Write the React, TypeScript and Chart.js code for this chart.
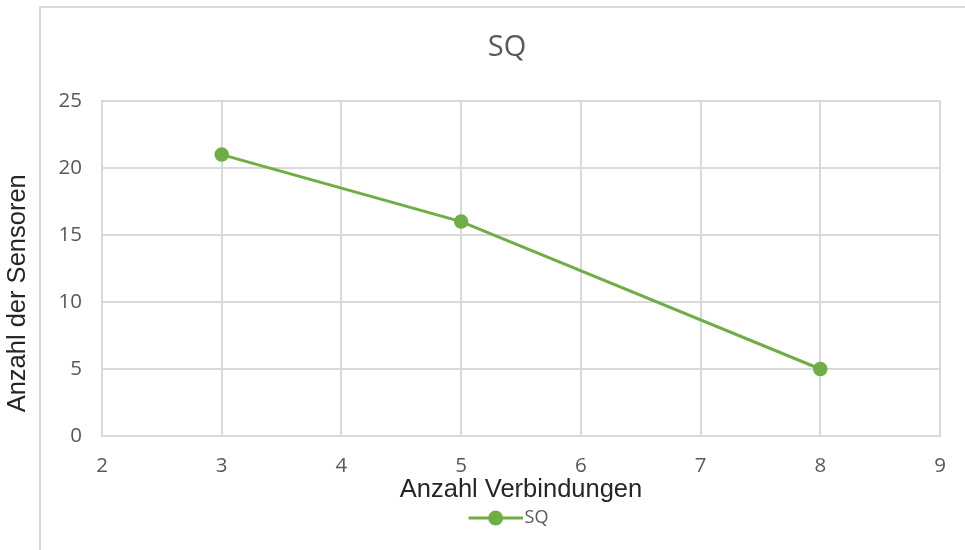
import React, { useEffect, useRef } from "react";
import { Chart, registerables } from "chart.js";

Chart.register(...registerables);

const seriesName = "SQ";
const connections = [3, 5, 8];
const sensors = [21, 16, 5];
const xTicks = { min: 2, max: 9, step: 1 };
const yTicks = { min: 0, max: 25, step: 5 };
const chartTitle = "SQ";
const xTitle = "Anzahl Verbindungen";
const yTitle = "Anzahl der Sensoren";

const GREEN = "#70ad47";
const GRID = "#d9d9d9";
const TICK = "#595959";
const UI_FONT = "'Open Sans', 'Noto Sans', sans-serif";
const AX_FONT = "'Liberation Sans', Arial, sans-serif";

function makeLegendImage(): HTMLCanvasElement {
  const c = document.createElement("canvas");
  c.width = 64;
  c.height = 16;
  const ctx = c.getContext("2d")!;
  ctx.strokeStyle = GREEN;
  ctx.lineWidth = 3;
  ctx.beginPath();
  ctx.moveTo(10, 8);
  ctx.lineTo(64, 8);
  ctx.stroke();
  ctx.fillStyle = GREEN;
  ctx.beginPath();
  ctx.arc(37, 8, 7.5, 0, Math.PI * 2);
  ctx.fill();
  return c;
}

export default function App() {
  const ref = useRef<HTMLCanvasElement>(null);
  useEffect(() => {
    if (!ref.current) return;
    const img = makeLegendImage();
    const chart = new Chart(ref.current, {
      type: "line",
      data: {
        datasets: [
          {
            label: seriesName,
            data: connections.map((x, i) => ({ x, y: sensors[i] })),
            borderColor: GREEN,
            backgroundColor: GREEN,
            borderWidth: 3,
            pointRadius: 6.5,
            pointHoverRadius: 6.5,
            pointBackgroundColor: GREEN,
            pointBorderColor: GREEN,
            pointBorderWidth: 1.5,
            tension: 0,
            fill: false,
            yAxisID: "y",
          },
        ],
      },
      options: {
        responsive: false,
        animation: false,
        devicePixelRatio: 1,
        layout: { padding: { left: 0, right: 0, top: 0, bottom: 13 } },
        plugins: {
          tooltip: { enabled: false },
          title: {
            display: true,
            text: chartTitle,
            color: TICK,
            font: { family: UI_FONT, size: 29, weight: "normal" },
            padding: { top: 30, bottom: 36.2 },
          },
          legend: {
            display: true,
            position: "bottom",
            labels: {
              usePointStyle: true,
              pointStyleWidth: 50,
              padding: 4,
              color: TICK,
              font: { family: UI_FONT, size: 18 },
              generateLabels: () => [
                {
                  text: seriesName,
                  pointStyle: img as any,
                  fillStyle: GREEN,
                  strokeStyle: GREEN,
                  lineWidth: 0,
                  fontColor: TICK,
                  hidden: false,
                  datasetIndex: 0,
                } as any,
              ],
            },
          },
        },
        scales: {
          x: {
            type: "linear",
            min: xTicks.min,
            max: xTicks.max,
            ticks: {
              stepSize: xTicks.step,
              color: TICK,
              padding: 18,
              font: { family: UI_FONT, size: 20.5 },
            },
            grid: { color: GRID, lineWidth: 2, drawTicks: false },
            border: { display: true, color: GRID, width: 2 },
            title: {
              display: true,
              text: xTitle,
              color: "#262626",
              font: { family: AX_FONT, size: 25.5 },
              padding: { top: 0, bottom: 0 },
            },
            afterFit: (s: any) => {
              s.height = 69;
            },
          },
          y: {
            type: "linear",
            position: "left",
            min: yTicks.min,
            max: yTicks.max,
            ticks: {
              stepSize: yTicks.step,
              color: TICK,
              padding: 20,
              font: { family: UI_FONT, size: 20.5 },
            },
            grid: { color: GRID, lineWidth: 2, drawTicks: false },
            border: { display: true, color: GRID, width: 2 },
            title: {
              display: true,
              text: yTitle + "       ",
              color: "#262626",
              font: { family: AX_FONT, size: 25.5 },
              padding: { top: 3, bottom: 0 },
            },
            afterFit: (s: any) => {
              s.width = 102;
            },
          },
          y2: {
            type: "linear",
            position: "right",
            display: true,
            ticks: { display: false },
            grid: { display: false, drawTicks: false },
            border: { display: false },
            afterFit: (s: any) => {
              s.width = 74;
            },
          },
        },
      },
    });
    return () => chart.destroy();
  }, []);

  return (
    <div
      style={{
        position: "fixed",
        left: 0,
        top: 0,
        width: 965,
        height: 550,
        overflow: "hidden",
        background: "#fff",
      }}
    >
      <div
        style={{
          position: "absolute",
          left: 39,
          top: 6,
          width: 2000,
          height: 2000,
          borderLeft: `2px solid ${GRID}`,
          borderTop: `2px solid ${GRID}`,
        }}
      />
      <canvas
        ref={ref}
        width={1014}
        height={550}
        style={{ position: "absolute", left: 0, top: 0, width: 1014, height: 550 }}
      />
    </div>
  );
}
